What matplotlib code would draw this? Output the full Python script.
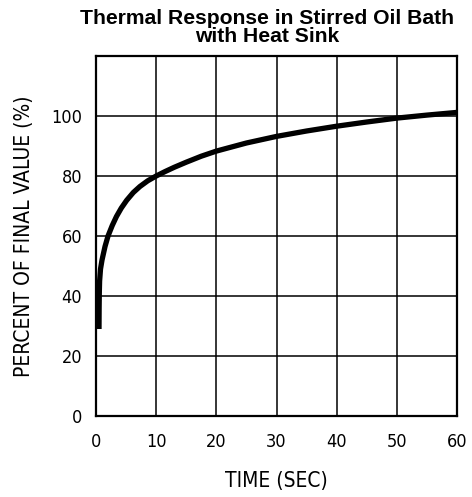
import matplotlib
matplotlib.use("Agg")
import matplotlib.pyplot as plt

# curva (tiempo en s, porcentaje del valor final)
tiempo = [0.5, 0.52, 0.55, 0.6, 0.75, 1.0, 1.5, 2.0, 2.7, 3.4, 4.2, 5.1, 6.2, 7.3,
          8.6, 10, 11.5, 13, 15, 17.5, 20, 25, 30, 35, 40, 45, 50, 55, 60]
porcentaje = [29, 36, 41, 45, 49, 52, 56.5, 60, 63.5, 66.5, 69.3, 71.9, 74.5, 76.5,
              78.4, 80, 81.5, 82.9, 84.6, 86.6, 88.3, 91, 93.2, 95, 96.6, 98, 99.3, 100.3, 101.2]

x_ticks = [0, 10, 20, 30, 40, 50, 60]
y_ticks = [0, 20, 40, 60, 80, 100]

fig = plt.figure(figsize=(4.72, 4.97), dpi=100)
ax = fig.add_axes([96 / 472, 81 / 497, 361 / 472, 360 / 497])

ax.plot(tiempo, porcentaje, color='black', lw=3.8, solid_capstyle='butt', solid_joinstyle='round')
ax.set_xlim(0, 60)
ax.set_ylim(0, 120)
ax.set_xticks(x_ticks)
ax.set_yticks(y_ticks)
ax.grid(True, color='black', lw=1.1)
ax.set_axisbelow(True)
for s in ax.spines.values():
    s.set_linewidth(1.6)
ax.tick_params(axis='x', length=0, pad=12)
ax.tick_params(axis='y', length=0, pad=10)
for lab in ax.get_xticklabels() + ax.get_yticklabels():
    lab.set_family('DejaVu Sans')
    lab.set_stretch('condensed')
    lab.set_fontsize(13)

ax.set_xlabel('TIME (SEC)', family='DejaVu Sans', stretch='condensed', fontsize=15, labelpad=15)
ax.set_ylabel('PERCENT OF FINAL VALUE (%)', family='DejaVu Sans', stretch='condensed',
              fontsize=15, labelpad=12)

fig.text(267 / 472, 1 - 9 / 497, 'Thermal Response in Stirred Oil Bath\nwith Heat Sink',
         ha='center', va='top', fontsize=15.2, fontweight='bold',
         family='Liberation Sans', linespacing=0.95)

fig.savefig('out.png', dpi=100)
